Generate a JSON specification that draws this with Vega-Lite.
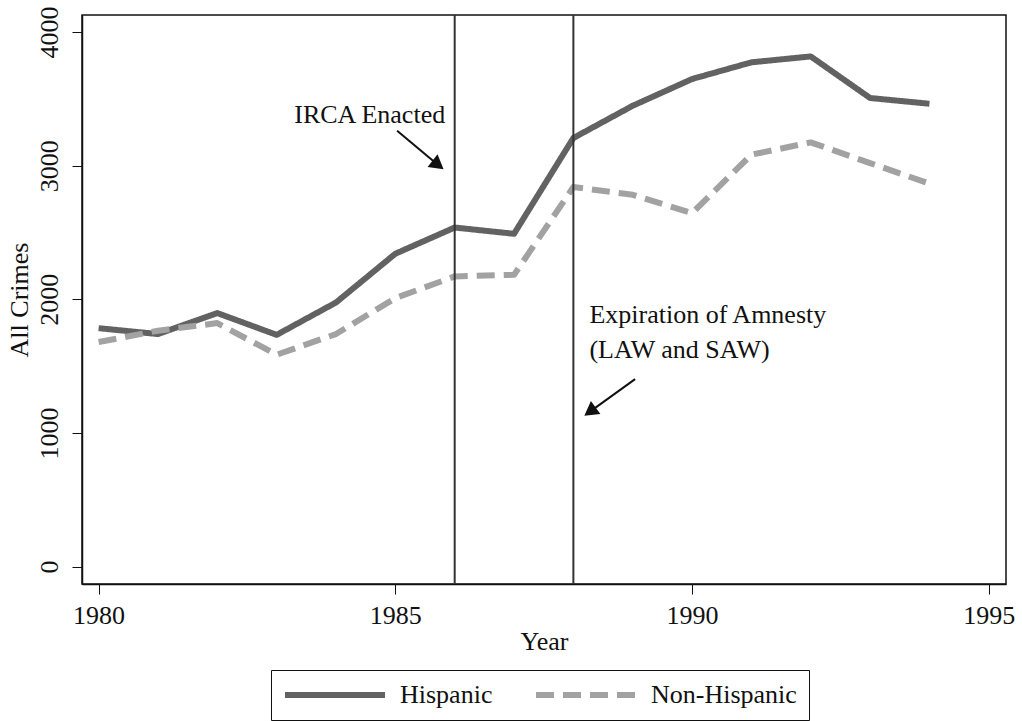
{
  "$schema": "https://vega.github.io/schema/vega-lite/v6.json",
  "width": 924,
  "height": 569,
  "autosize": {"type": "none"},
  "padding": {"left": 82, "top": 15, "right": 16, "bottom": 137},
  "background": "white",
  "config": {
    "font": "Liberation Serif",
    "view": {"stroke": "#111", "strokeWidth": 1.5},
    "axis": {
      "grid": false,
      "domainColor": "#111",
      "domainWidth": 1.5,
      "tickColor": "#111",
      "tickWidth": 1,
      "tickSize": 10,
      "labelFont": "Liberation Serif",
      "labelFontSize": 26,
      "labelColor": "#111",
      "titleFont": "Liberation Serif",
      "titleFontSize": 26,
      "titleFontWeight": "normal",
      "titleColor": "#111"
    }
  },
  "datasets": {
    "series": [
      {"year": 1980, "crimes": 1784, "group": "Hispanic"},
      {"year": 1981, "crimes": 1740, "group": "Hispanic"},
      {"year": 1982, "crimes": 1897, "group": "Hispanic"},
      {"year": 1983, "crimes": 1734, "group": "Hispanic"},
      {"year": 1984, "crimes": 1976, "group": "Hispanic"},
      {"year": 1985, "crimes": 2341, "group": "Hispanic"},
      {"year": 1986, "crimes": 2537, "group": "Hispanic"},
      {"year": 1987, "crimes": 2490, "group": "Hispanic"},
      {"year": 1988, "crimes": 3207, "group": "Hispanic"},
      {"year": 1989, "crimes": 3448, "group": "Hispanic"},
      {"year": 1990, "crimes": 3648, "group": "Hispanic"},
      {"year": 1991, "crimes": 3773, "group": "Hispanic"},
      {"year": 1992, "crimes": 3817, "group": "Hispanic"},
      {"year": 1993, "crimes": 3506, "group": "Hispanic"},
      {"year": 1994, "crimes": 3463, "group": "Hispanic"},
      {"year": 1980, "crimes": 1680, "group": "Non-Hispanic"},
      {"year": 1981, "crimes": 1765, "group": "Non-Hispanic"},
      {"year": 1982, "crimes": 1822, "group": "Non-Hispanic"},
      {"year": 1983, "crimes": 1585, "group": "Non-Hispanic"},
      {"year": 1984, "crimes": 1740, "group": "Non-Hispanic"},
      {"year": 1985, "crimes": 2009, "group": "Non-Hispanic"},
      {"year": 1986, "crimes": 2171, "group": "Non-Hispanic"},
      {"year": 1987, "crimes": 2183, "group": "Non-Hispanic"},
      {"year": 1988, "crimes": 2840, "group": "Non-Hispanic"},
      {"year": 1989, "crimes": 2782, "group": "Non-Hispanic"},
      {"year": 1990, "crimes": 2645, "group": "Non-Hispanic"},
      {"year": 1991, "crimes": 3082, "group": "Non-Hispanic"},
      {"year": 1992, "crimes": 3174, "group": "Non-Hispanic"},
      {"year": 1993, "crimes": 3019, "group": "Non-Hispanic"},
      {"year": 1994, "crimes": 2865, "group": "Non-Hispanic"}
    ],
    "events": [{"year": 1986}, {"year": 1988}],
    "labels": [
      {"year": 1985.84, "crimes": 3321, "label": "IRCA Enacted", "side": "right"},
      {"year": 1988.27, "crimes": 1824, "label": "Expiration of Amnesty", "side": "left"},
      {"year": 1988.27, "crimes": 1562, "label": "(LAW and SAW)", "side": "left"}
    ],
    "arrows": [
      {"year": 1985.03, "crimes": 3261, "year2": 1985.72, "crimes2": 3005, "name": "IRCA"},
      {"year": 1989.04, "crimes": 1403, "year2": 1988.28, "crimes2": 1160, "name": "Amnesty"}
    ]
  },
  "encoding": {
    "x": {
      "field": "year",
      "type": "quantitative",
      "scale": {"domain": [1979.72, 1995.29], "nice": false, "zero": false},
      "axis": {"title": "Year", "values": [1980, 1985, 1990, 1995], "format": "d", "labelPadding": 8, "titlePadding": 0, "labelFlush": false}
    },
    "y": {
      "field": "crimes",
      "type": "quantitative",
      "scale": {"domain": [-130, 4127], "nice": false, "zero": false},
      "axis": {"title": "All Crimes", "values": [0, 1000, 2000, 3000, 4000], "format": "d", "labelAngle": -90, "labelAlign": "center", "labelBaseline": "alphabetic", "labelPadding": 15, "titlePadding": 4, "labelFlush": false}
    }
  },
  "layer": [
    {
      "data": {"name": "series"},
      "mark": {"type": "line", "strokeWidth": 6, "strokeJoin": "round", "strokeCap": "butt"},
      "encoding": {
        "color": {
          "field": "group", "type": "nominal",
          "scale": {"domain": ["Hispanic", "Non-Hispanic"], "range": ["#626262", "#a2a2a2"]},
          "legend": {
            "title": null,
            "orient": "none",
            "legendX": 189,
            "legendY": 655,
            "direction": "horizontal",
            "symbolType": "M-5,0H5",
            "symbolSize": 400,
            "symbolStrokeWidth": 6,
            "symbolOffset": 39,
            "labelFont": "Liberation Serif",
            "labelFontSize": 26,
            "labelColor": "#111",
            "labelOffset": 52,
            "columnPadding": 31,
            "padding": 12,
            "strokeColor": "#111",
            "fillColor": "white"
          }
        },
        "strokeDash": {
          "field": "group", "type": "nominal",
          "scale": {"domain": ["Hispanic", "Non-Hispanic"], "range": [[1, 0], [18, 9]]},
          "legend": null
        }
      }
    },
    {
      "data": {"name": "events"},
      "mark": {"type": "rule", "color": "#333", "strokeWidth": 2},
      "encoding": {"x": {"field": "year", "type": "quantitative"}, "y": null}
    },
    {
      "data": {"name": "labels"},
      "transform": [{"filter": "datum.side === 'right'"}],
      "mark": {"type": "text", "align": "right", "baseline": "alphabetic", "fontSize": 26, "color": "#111", "font": "Liberation Serif"},
      "encoding": {"text": {"field": "label"}}
    },
    {
      "data": {"name": "labels"},
      "transform": [{"filter": "datum.side === 'left'"}],
      "mark": {"type": "text", "align": "left", "baseline": "alphabetic", "fontSize": 26, "color": "#111", "font": "Liberation Serif"},
      "encoding": {"text": {"field": "label"}}
    },
    {
      "data": {"name": "arrows"},
      "mark": {"type": "rule", "color": "#111", "strokeWidth": 2},
      "encoding": {"x2": {"field": "year2"}, "y2": {"field": "crimes2"}}
    },
    {
      "data": {"name": "arrows"},
      "transform": [{"filter": "datum.name === 'IRCA'"}],
      "mark": {"type": "point", "shape": "triangle-up", "filled": true, "color": "#111", "size": 260, "angle": 128, "opacity": 1},
      "encoding": {"x": {"field": "year2", "type": "quantitative"}, "y": {"field": "crimes2", "type": "quantitative"}}
    },
    {
      "data": {"name": "arrows"},
      "transform": [{"filter": "datum.name === 'Amnesty'"}],
      "mark": {"type": "point", "shape": "triangle-up", "filled": true, "color": "#111", "size": 260, "angle": 234, "opacity": 1},
      "encoding": {"x": {"field": "year2", "type": "quantitative"}, "y": {"field": "crimes2", "type": "quantitative"}}
    }
  ]
}
